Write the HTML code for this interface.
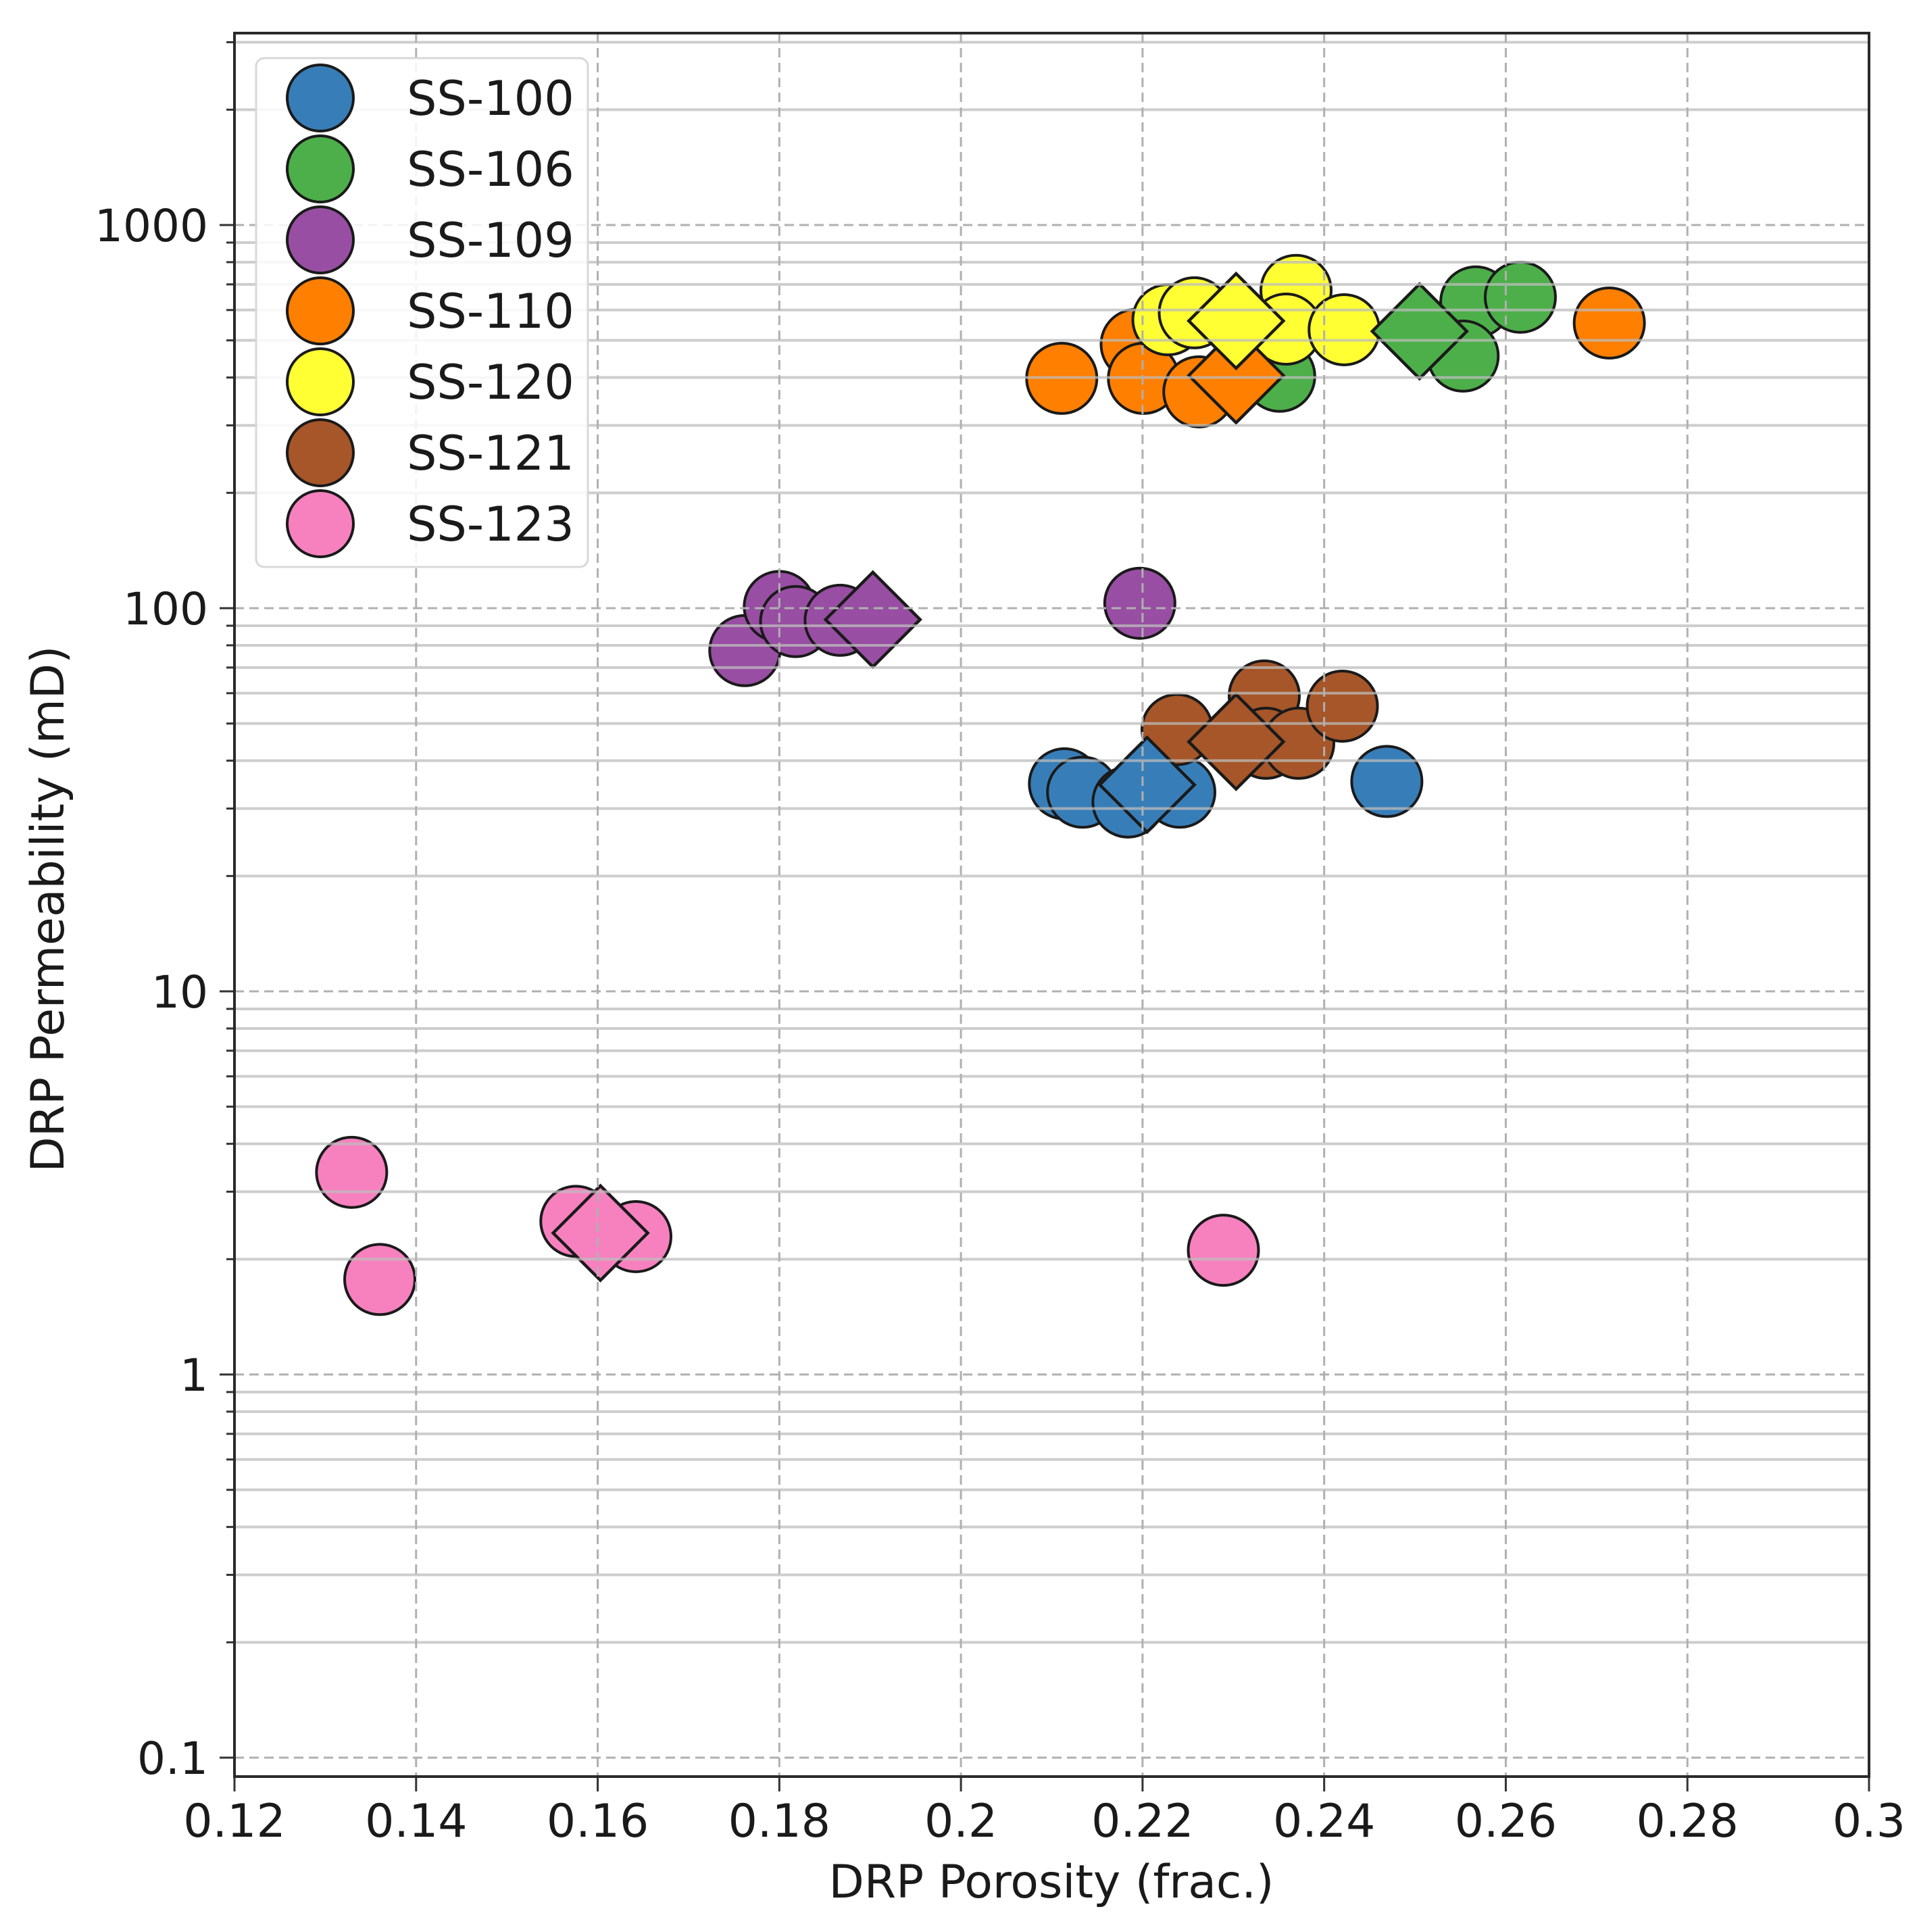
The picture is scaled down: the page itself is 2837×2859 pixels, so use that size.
<!DOCTYPE html>
<html><head><meta charset="utf-8"><style>
html,body{margin:0;padding:0;background:#fff;}
svg{display:block;}
text{font-family:"DejaVu Sans","Liberation Sans",sans-serif;fill:#1a1a1a;}
</style></head><body>
<svg id="chart" width="2837" height="2859" viewBox="0 0 2837 2859" xmlns="http://www.w3.org/2000/svg">
<rect x="0" y="0" width="2837" height="2859" fill="#fff"/>
<g id="markers"></g>
<g id="grid"></g>
<g id="axes"></g>
<g id="legend"></g>
</svg>
<script>
const seriesNames = ["SS-100","SS-106","SS-109","SS-110","SS-120","SS-121","SS-123"];
const seriesColors = ["#377eb8","#4daf4a","#984ea3","#ff7f00","#ffff33","#a65628","#f781bf"];
const poroSS100 = [0.2114,0.2134,0.2184,0.2241,0.2469];
const permSS100 = [34.8,33.1,31.2,33.1,35.3];
const poroSS106 = [0.2351,0.2567,0.2616,0.2553];
const permSS106 = [403,630,648,455];
const poroSS109 = [0.1762,0.1800,0.1818,0.1867,0.2197];
const permSS109 = [77.5,101,92.3,93,103];
const poroSS110 = [0.2111,0.2193,0.2201,0.2262,0.2714];
const permSS110 = [398,488,398,367,555];
const poroSS120 = [0.2228,0.2257,0.2369,0.2358,0.2422];
const permSS120 = [566,590,675,535,533];
const poroSS121 = [0.2238,0.2334,0.2336,0.2372,0.2420];
const permSS121 = [48.2,59,44.4,44.4,55.5];
const poroSS123 = [0.1329,0.1360,0.1576,0.1642,0.2289];
const permSS123 = [3.37,1.77,2.51,2.29,2.11];
const meanPoro = [0.2205,0.2505,0.1903,0.2303,0.2303,0.2303,0.1603];
const meanPerm = [34.6,528,93.4,405,562,44.8,2.34];
const xTicks = [0.12,0.14,0.16,0.18,0.2,0.22,0.24,0.26,0.28,0.3];
const xTickLabels = ["0.12","0.14","0.16","0.18","0.2","0.22","0.24","0.26","0.28","0.3"];
const yTicks = [0.1,1,10,100,1000];
const yTickLabels = ["0.1","1","10","100","1000"];

const NS="http://www.w3.org/2000/svg";
const L=347,R=2766,T=49,B=2629;
const xMin=0.12,xMax=0.3;
const decade=567, y1000=333;
function xs(v){return L+(v-xMin)/(xMax-xMin)*(R-L);}
function ys(v){return y1000+(3-Math.log10(v))*decade;}
function mk(tag,attrs,parent){const e=document.createElementNS(NS,tag);for(const k in attrs)e.setAttribute(k,attrs[k]);parent.appendChild(e);return e;}

const markers=document.getElementById('markers');
const grid=document.getElementById('grid');
const axes=document.getElementById('axes');
const legend=document.getElementById('legend');
const poros=[poroSS100,poroSS106,poroSS109,poroSS110,poroSS120,poroSS121,poroSS123];
const perms=[permSS100,permSS106,permSS109,permSS110,permSS120,permSS121,permSS123];

for(let s=0;s<seriesNames.length;s++){
  for(let i=0;i<poros[s].length;i++){
    const c=mk('circle',{cx:xs(poros[s][i]),cy:ys(perms[s][i]),r:52,fill:seriesColors[s],stroke:'#1a1a1a','stroke-width':4},markers);
    
    
  }
}
for(let s=0;s<seriesNames.length;s++){
  const cx=xs(meanPoro[s]),cy=ys(meanPerm[s]),h=70;
  const p=mk('polygon',{points:`${cx},${cy-h} ${cx+h},${cy} ${cx},${cy+h} ${cx-h},${cy}`,fill:seriesColors[s],stroke:'#1a1a1a','stroke-width':4.5},markers);
  
  
}
for(let d=-1;d<=3;d++){
  for(let m=2;m<=9;m++){
    const v=m*Math.pow(10,d);const y=ys(v);
    if(y<T+2)continue;
    const g=mk('line',{x1:L,x2:R,y1:y,y2:y,stroke:'#bdbdbd','stroke-width':4,opacity:0.75},grid);
    
    
    mk('line',{x1:L-12,x2:L,y1:y,y2:y,stroke:'#333','stroke-width':3},axes);
  }
}
for(let i=0;i<yTicks.length;i++){
  const y=ys(yTicks[i]);
  const g=mk('line',{x1:L,x2:R,y1:y,y2:y,stroke:'#b0b0b0','stroke-width':3,'stroke-dasharray':'14,8'},grid);
  
  
  mk('line',{x1:L-22,x2:L,y1:y,y2:y,stroke:'#333','stroke-width':3},axes);
  const t=mk('text',{x:308,y:y+24,'text-anchor':'end','font-size':66},axes);
  t.textContent=yTickLabels[i];
  
  
}
for(let i=0;i<xTicks.length;i++){
  const x=xs(xTicks[i]);
  const g=mk('line',{x1:x,x2:x,y1:T,y2:B,stroke:'#b0b0b0','stroke-width':3,'stroke-dasharray':'14,8'},grid);
  
  
  mk('line',{x1:x,x2:x,y1:B,y2:B+22,stroke:'#333','stroke-width':3},axes);
  const t=mk('text',{x:x,y:2718,'text-anchor':'middle','font-size':68},axes);
  t.textContent=xTickLabels[i];
  
  
}
const frame=mk('rect',{x:L,y:T,width:R-L,height:B-T,fill:'none',stroke:'#2a2a2a','stroke-width':4},axes);


const xt=mk('text',{x:1556,y:2808,'text-anchor':'middle','font-size':68},axes);
xt.textContent='DRP Porosity (frac.)';


const yt=mk('text',{x:0,y:0,'text-anchor':'middle','font-size':68,transform:'translate(94,1345) rotate(-90)'},axes);
yt.textContent='DRP Permeability (mD)';



const lb=mk('rect',{x:379,y:86,width:491,height:753,rx:12,fill:'#fff','fill-opacity':0.85,stroke:'#d8d8d8','stroke-width':3},legend);


for(let s=0;s<seriesNames.length;s++){
  const cy=145+s*105;
  const c=mk('circle',{cx:474,cy:cy,r:49,fill:seriesColors[s],stroke:'#1a1a1a','stroke-width':4},legend);
  
  
  const t=mk('text',{x:602,y:cy+25,'font-size':70},legend);
  t.textContent=seriesNames[s];
  
  
}
</script>
</body></html>
